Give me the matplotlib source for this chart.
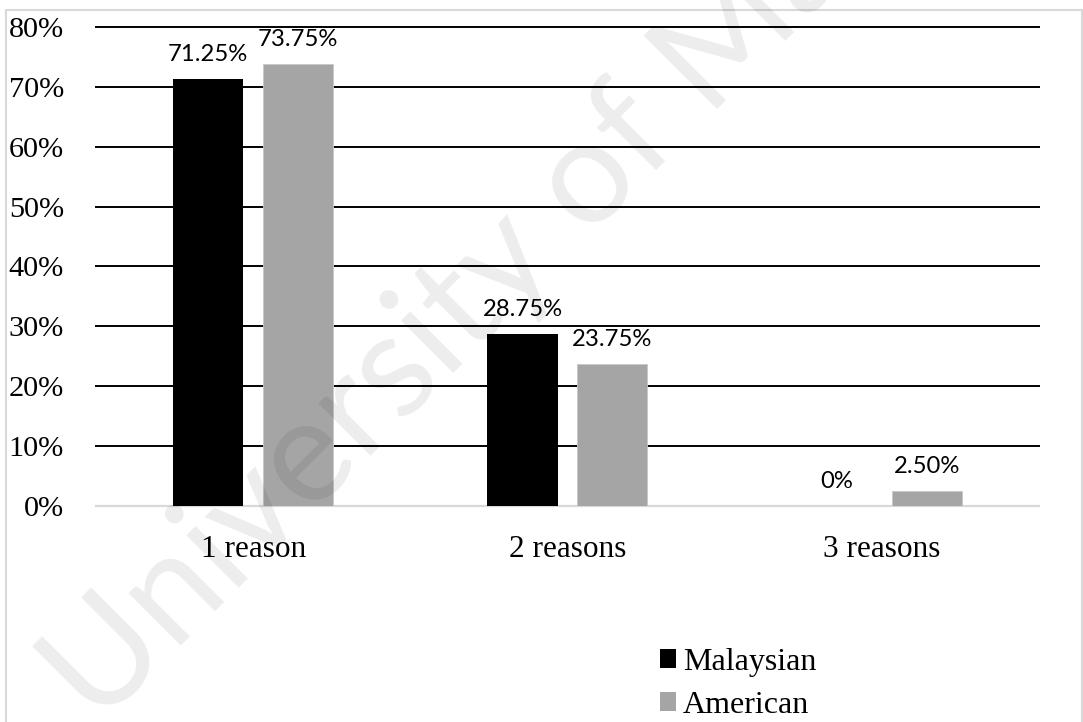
import matplotlib
matplotlib.use("Agg")
import matplotlib.pyplot as plt
from matplotlib.patches import Patch, Rectangle
import numpy as np

# Number of reasons given, share of respondents (%)
categories = ["1 reason", "2 reasons", "3 reasons"]
malaysian = [71.25, 28.75, 0.0]
american = [73.75, 23.75, 2.50]
series_names = ["Malaysian", "American"]
y_ticks = [0, 10, 20, 30, 40, 50, 60, 70, 80]

BLACK = "#000000"
GREY = "#a5a5a5"
SERIF = "Liberation Serif"
SANS = "Lato"

fig = plt.figure(figsize=(10.83, 7.22), dpi=100)
ax = fig.add_axes([0.0886, 0.2992, 0.8708, 0.6634])

x = np.arange(len(categories))
width = 0.223
offset = 0.143
bars_m = ax.bar(x - offset, malaysian, width, color=BLACK, zorder=3)
bars_a = ax.bar(x + offset, american, width, color=GREY,
                edgecolor="#c8c8c8", linewidth=0.6, zorder=3)

ax.set_xlim(-0.5, len(categories) - 0.5)
ax.set_ylim(0, 80)
ax.set_yticks(y_ticks)
ax.set_yticklabels([f"{t}%" for t in y_ticks], fontfamily=SERIF, fontsize=21.8)
ax.set_xticks(x)
ax.set_xticklabels(categories, fontfamily=SERIF, fontsize=22.5)
ax.tick_params(axis="y", length=0, pad=23)
ax.tick_params(axis="x", length=0, pad=21)

for s in ax.spines.values():
    s.set_visible(False)

ax.yaxis.grid(True, color="black", linewidth=1.4)
ax.set_axisbelow(True)
grid = ax.get_ygridlines()
for gl in grid:
    gl.set_clip_on(False)
grid[0].set_color("#d9d9d9")
grid[0].set_linewidth(1.6)


def fmt(v):
    return "0%" if v == 0 else f"{v:.2f}%"


for bars, vals in ((bars_m, malaysian), (bars_a, american)):
    for b, v in zip(bars, vals):
        ax.annotate(fmt(v), (b.get_x() + b.get_width() / 2, v),
                    xytext=(0, 13), textcoords="offset points",
                    ha="center", va="baseline", fontfamily=SANS,
                    fontsize=17.2, color="black", zorder=4)

handles = [Patch(facecolor=BLACK), Patch(facecolor=GREY)]
fig.legend(handles, series_names, loc="upper left",
           bbox_to_anchor=(0.609, 0.103), bbox_transform=fig.transFigure,
           frameon=False, borderpad=0, borderaxespad=0,
           handlelength=0.53, handleheight=0.53, handletextpad=0.2,
           labelspacing=0.45, prop={"family": SERIF, "size": 23})

# outer chart frame
fig.patches.append(Rectangle((6 / 1083, -0.05), 1076 / 1083, 1.05 - 10 / 722,
                             transform=fig.transFigure, fill=False,
                             edgecolor="#d9d9d9", linewidth=1.5, zorder=0))

# watermark
fig.text(0.497, 0.681, "University of Malaya", rotation=45,
         rotation_mode="anchor", ha="center", va="center",
         fontfamily=SANS, fontsize=105, color="black", alpha=0.075, zorder=10)

fig.savefig("out.png", dpi=100)
